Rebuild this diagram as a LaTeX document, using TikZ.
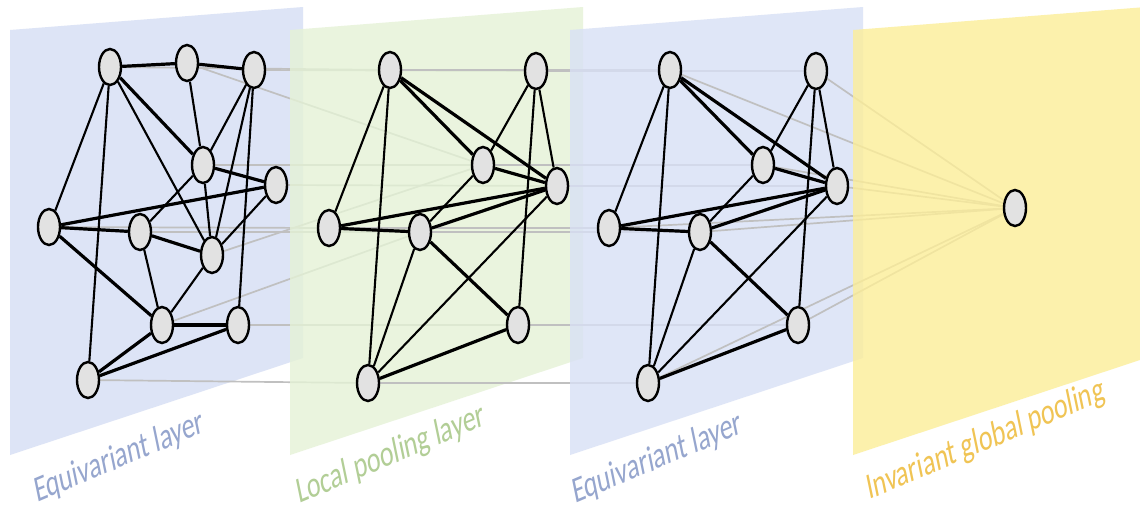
\documentclass[tikz,border=0pt]{standalone}
\usepackage{fontspec}
\setmainfont{Carlito}
\usetikzlibrary{shapes.geometric}
\definecolor{pblue}{RGB}{221,228,246}
\definecolor{pblueT}{RGB}{216,224,245}
\definecolor{pgreenT}{RGB}{229,242,214}
\definecolor{pyellowT}{RGB}{252,238,152}
\definecolor{lblue}{RGB}{150,166,206}
\definecolor{lgreen}{RGB}{178,206,150}
\definecolor{lyellow}{RGB}{240,196,84}
\definecolor{nodegray}{RGB}{226,226,226}
\definecolor{faint}{RGB}{192,192,192}
\pgfdeclarelayer{p1}\pgfdeclarelayer{f1}\pgfdeclarelayer{e1}
\pgfdeclarelayer{p2}\pgfdeclarelayer{f2}\pgfdeclarelayer{e2}
\pgfdeclarelayer{p3}\pgfdeclarelayer{f3}\pgfdeclarelayer{e3}
\pgfdeclarelayer{p4}
\pgfsetlayers{p1,f1,e1,p2,f2,e2,p3,f3,e3,p4,main}
\begin{document}
\begin{tikzpicture}[x=1pt,y=-1pt,
  vert/.style={ellipse, draw=black, line width=2.4pt, fill=nodegray, minimum width=22pt, minimum height=36pt, inner sep=0pt},
  edgethin/.style={draw=black, line width=2.1pt},
  edgethick/.style={draw=black, line width=3.2pt},
  faintline/.style={draw=faint, line width=1.7pt},
  panelfill/.style={fill opacity=0.8},
  lbl/.style={font=\fontsize{37}{42}\selectfont, cm={0.671,0.284,-0.199,0.959,(0,0)}, anchor=base west, inner sep=0pt}]
\useasboundingbox (0,0) rectangle (1140,515);
% ---------- nodes: panel 1 ----------
\node[vert] (A) at (110,67) {};
\node[vert] (B) at (187,63) {};
\node[vert] (C) at (254,70) {};
\node[vert] (D) at (203,165) {};
\node[vert] (E) at (276,185) {};
\node[vert] (F) at (49,227) {};
\node[vert] (G) at (140,232) {};
\node[vert] (H) at (212,255) {};
\node[vert] (I) at (162,325) {};
\node[vert] (J) at (238,325) {};
\node[vert] (K) at (88,380) {};
% ---------- nodes: panel 2 ----------
\node[vert] (Q1) at (390,70) {};
\node[vert] (Q2) at (536,71) {};
\node[vert] (Q3) at (483,165) {};
\node[vert] (Q4) at (557,186) {};
\node[vert] (Q5) at (329,228) {};
\node[vert] (Q6) at (420,232) {};
\node[vert] (Q7) at (518,325) {};
\node[vert] (Q8) at (368,383) {};
% ---------- nodes: panel 3 ----------
\node[vert] (R1) at (670,70) {};
\node[vert] (R2) at (816,71) {};
\node[vert] (R3) at (763,165) {};
\node[vert] (R4) at (837,186) {};
\node[vert] (R5) at (609,228) {};
\node[vert] (R6) at (700,232) {};
\node[vert] (R7) at (798,325) {};
\node[vert] (R8) at (648,383) {};
% ---------- node: panel 4 ----------
\node[vert] (Z) at (1015,208) {};
% ---------- labels ----------
\node[lbl, text=lblue] (L1) at (37,503) {Equivariant layer};
\node[lbl, text=lgreen] (L2) at (299,504) {Local pooling layer};
\node[lbl, text=lblue] (L3) at (575,504) {Equivariant layer};
\node[lbl, text=lyellow] (L4) at (869,500) {Invariant global pooling};
% ---------- panels ----------
\begin{pgfonlayer}{p1}
\fill[white] (0,0) rectangle (1140,515);
\fill[pblue] (10,30) -- (303,7) -- (303,358) -- (10,455) -- cycle;
\end{pgfonlayer}
\begin{pgfonlayer}{p2}
\fill[pgreenT, panelfill] (290,30) -- (583,7) -- (583,358) -- (290,455) -- cycle;
\end{pgfonlayer}
\begin{pgfonlayer}{p3}
\fill[pblueT, panelfill] (570,30) -- (863,7) -- (863,358) -- (570,455) -- cycle;
\end{pgfonlayer}
\begin{pgfonlayer}{p4}
\fill[pyellowT, panelfill] (853,30) -- (1146,7) -- (1146,358) -- (853,455) -- cycle;
\end{pgfonlayer}
% ---------- faint inter-layer connections ----------
\begin{pgfonlayer}{f1}
\foreach \u/\v in {A/Q1, C/Q2, B/Q3, D/Q3, H/Q3, E/Q4, F/Q5, G/Q6, I/Q6, J/Q7, K/Q8}
  \draw[faintline] (\u.center) -- (\v.center);
\end{pgfonlayer}
\begin{pgfonlayer}{f2}
\foreach \i in {1,...,8}
  \draw[faintline] (Q\i.center) -- (R\i.center);
\end{pgfonlayer}
\begin{pgfonlayer}{f3}
\foreach \i in {1,...,8}
  \draw[faintline] (R\i.center) -- (Z.center);
\end{pgfonlayer}
% ---------- graph edges ----------
\begin{pgfonlayer}{e1}
\foreach \u/\v in {A/F, A/K, A/H, B/D, C/D, C/H, C/J, D/G, D/H, E/H, G/I, H/I}
  \draw[edgethin] (\u) -- (\v);
\foreach \u/\v in {A/B, B/C, A/D, D/E, E/F, F/G, G/H, F/I, I/J, J/K, K/I}
  \draw[edgethick] (\u) -- (\v);
\end{pgfonlayer}
\begin{pgfonlayer}{e2}
\foreach \u/\v in {1/5, 1/8, 2/3, 2/4, 2/7, 3/6, 6/8, 8/4}
  \draw[edgethin] (Q\u) -- (Q\v);
\foreach \u/\v in {1/3, 1/4, 3/4, 5/4, 5/6, 6/4, 6/7, 8/7}
  \draw[edgethick] (Q\u) -- (Q\v);
\end{pgfonlayer}
\begin{pgfonlayer}{e3}
\foreach \u/\v in {1/5, 1/8, 2/3, 2/4, 2/7, 3/6, 6/8, 8/4}
  \draw[edgethin] (R\u) -- (R\v);
\foreach \u/\v in {1/3, 1/4, 3/4, 5/4, 5/6, 6/4, 6/7, 8/7}
  \draw[edgethick] (R\u) -- (R\v);
\end{pgfonlayer}
\end{tikzpicture}
\end{document}
